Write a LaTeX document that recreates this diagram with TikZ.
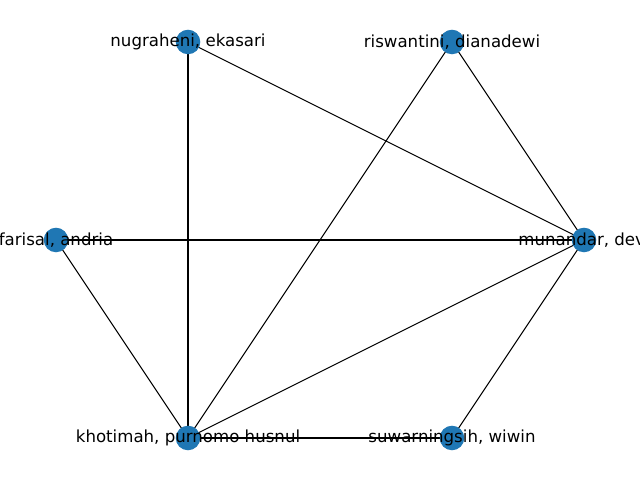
\documentclass[tikz,border=0pt]{standalone}
\usepackage{fontspec}
\setmainfont{DejaVu Sans}
\definecolor{nodeblue}{HTML}{1F77B4}
\tikzset{
  vert/.style={circle, fill=nodeblue, draw=none, minimum size=0.245in, inner sep=0pt},
  lbl/.style={font=\fontsize{12}{14}\selectfont, text=black, inner sep=0pt, anchor=center},
  edge/.style={draw=black, line width=0.75pt}
}
\begin{document}
\begin{tikzpicture}[x=0.01in, y=-0.01in]
\useasboundingbox (0,0) rectangle (640,480);
\clip (0,0) rectangle (640,480);
\fill[white] (0,0) rectangle (640,480);
\coordinate (nu) at (188,42);
\coordinate (ri) at (452,42);
\coordinate (fa) at (56,240);
\coordinate (mu) at (584,240);
\coordinate (kh) at (188,438);
\coordinate (su) at (452,438);
\draw[edge] (nu) -- (kh);
\draw[edge] (nu) -- (mu);
\draw[edge] (ri) -- (kh);
\draw[edge] (ri) -- (mu);
\draw[edge] (fa) -- (mu);
\draw[edge] (fa) -- (kh);
\draw[edge] (kh) -- (mu);
\draw[edge] (kh) -- (su);
\draw[edge] (su) -- (mu);
\node[vert] (nuV) at (nu) {};
\node[vert] (riV) at (ri) {};
\node[vert] (faV) at (fa) {};
\node[vert] (muV) at (mu) {};
\node[vert] (khV) at (kh) {};
\node[vert] (suV) at (su) {};
\node[lbl] (nuL) at (nu) {nugraheni, ekasari};
\node[lbl] (riL) at (ri) {riswantini, dianadewi};
\node[lbl] (faL) at (fa) {farisal, andria};
\node[lbl] (muL) at (mu) {munandar, devi};
\node[lbl] (khL) at (kh) {khotimah, purnomo husnul};
\node[lbl] (suL) at (su) {suwarningsih, wiwin};
\end{tikzpicture}
\end{document}
